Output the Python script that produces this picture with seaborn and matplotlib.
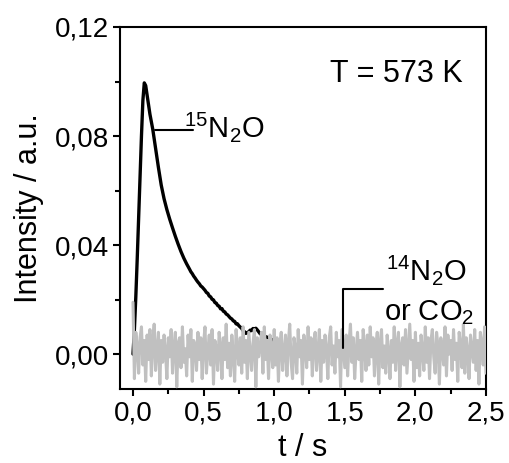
import numpy as np
import pandas as pd
import matplotlib
matplotlib.use("Agg")
import matplotlib.pyplot as plt
import seaborn as sns
from matplotlib.ticker import MultipleLocator, FuncFormatter

# ---------------- data ----------------
# 15N2O transient (intensity in units of 1e-3 a.u.)
t_15 = [0.00, 0.01, 0.02, 0.03, 0.04, 0.05, 0.06, 0.07, 0.08, 0.09,
        0.10, 0.12, 0.14, 0.16, 0.18, 0.20, 0.22, 0.24, 0.26, 0.28,
        0.30, 0.32, 0.34, 0.36, 0.38, 0.40, 0.41, 0.42, 0.43, 0.44,
        0.45, 0.46, 0.47, 0.48, 0.49, 0.50, 0.51, 0.52, 0.53, 0.54,
        0.55, 0.56, 0.57, 0.58, 0.59, 0.60, 0.61, 0.62, 0.63, 0.64,
        0.65, 0.66, 0.67, 0.68, 0.69, 0.70, 0.71, 0.72, 0.73, 0.74,
        0.75, 0.76, 0.77, 0.78, 0.79, 0.80, 0.81, 0.82, 0.83, 0.84,
        0.85, 0.86, 0.87, 0.88, 0.89, 0.90, 0.92, 0.94, 0.96, 0.98,
        1.00, 1.02]
y_15 = [0.0, 9.0, 21.0, 35.0, 50.0, 65.0, 80.0, 93.0, 99.5, 98.5,
        95.0, 88.0, 82.5, 75.5, 68.5, 62.0, 57.0, 53.0, 49.5, 46.3,
        43.2, 40.3, 37.6, 35.2, 33.1, 31.2, 30.2, 29.5, 28.6, 27.9,
        27.1, 26.4, 25.8, 25.0, 24.6, 24.0, 23.4, 22.6, 22.3, 21.3,
        21.0, 20.1, 19.9, 18.9, 18.7, 17.8, 17.6, 16.6, 16.7, 15.7,
        15.5, 14.7, 14.4, 13.8, 13.2, 12.9, 12.2, 12.0, 11.1, 11.1,
        10.4, 9.9, 9.4, 8.6, 8.2, 7.6, 7.9, 8.2, 8.8, 8.6,
        9.4, 9.2, 9.5, 8.9, 8.2, 7.5, 6.8, 6.4, 6.0, 5.4,
        5.0, 4.6]

# 14N2O or CO2 signal (noise around zero, units of 1e-3 a.u.), sampled every 0.01 s
y_14 = [19, -9, 8, 3, -7, 6, 10, -4, 5, -10,
        7, -2, 9, -8, 4, 11, -6, 2, 8, -11,
        5, -3, 7, 1, -9, 6, -1, 9, -7, 3,
        8, -12, 4, 6, -5, 10, -3, 2, -8, 7,
        -1, 9, -10, 5, 3, -6, 8, -2, 6, -9,
        4, 10, -7, 1, 7, -4, 9, -11, 5, 2,
        -6, 8, 3, -9, 6, -2, 11, -5, 4, -8,
        7, 0, -10, 9, 2, -4, 6, -7, 10, -3,
        5, -9, 8, 1, -6, 4, 9, -12, 6, -1,
        3, 8, -7, 10, -2, 5, -9, 7, 2, -5,
        9, -4, 6, -10, 3, 8, -6, 1, 7, -8,
        4, 11, -3, -9, 6, 2, -7, 9, -1, 5,
        -11, 7, 3, -5, 10, -2, 6, -8, 4, 8,
        -6, 1, 9, -10, 5, -3, 7, 2, -9, 6,
        10, -4, 3, -7, 8, -1, 5, -12, 9, 2,
        -5, 7, -8, 4, 11, -3, 6, -9, 1, 8,
        -2, 5, -10, 9, 3, -6, 7, -4, 10, -1,
        6, -8, 2, 8, -11, 4, 9, -5, 3, -7,
        7, 1, -9, 5, -3, 10, -6, 4, 8, -12,
        3, 6, -4, 9, -7, 2, 11, -2, 5, -10,
        8, -5, 4, -8, 7, 1, -6, 10, -3, 6,
        -9, 5, 9, -1, -7, 8, 3, -11, 6, 2,
        -4, 10, -8, 7, 0, 5, -6, 9, -2, 4,
        -10, 8, 3, -5, 11, -7, 6, 1, -9, 7,
        2, -3, 9, -6, 5, -11, 8, 4, -4, 10,
        -7]
t_14 = [round(i * 0.01, 2) for i in range(len(y_14))]

df15 = pd.DataFrame({"t": t_15, "I": np.array(y_15) * 1e-3})
df14 = pd.DataFrame({"t": t_14, "I": np.array(y_14) * 1e-3})

# ---------------- style ----------------
sns.set_theme(style="ticks")
plt.rcParams["font.family"] = ["Liberation Sans", "DejaVu Sans"]
plt.rcParams["mathtext.fontset"] = "custom"
plt.rcParams["mathtext.rm"] = "Liberation Sans"
plt.rcParams["mathtext.it"] = "Liberation Sans:italic"
plt.rcParams["mathtext.bf"] = "Liberation Sans:bold"
plt.rcParams["text.color"] = "black"
plt.rcParams["axes.labelcolor"] = "black"
plt.rcParams["xtick.color"] = "black"
plt.rcParams["ytick.color"] = "black"

fig = plt.figure(figsize=(5.09, 4.63), dpi=100)
ax = fig.add_axes([120 / 509, 74 / 463, 366 / 509, 362 / 463])

sns.lineplot(data=df15, x="t", y="I", ax=ax, color="black", lw=2.4,
             sort=False, estimator=None, zorder=2)
sns.lineplot(data=df14, x="t", y="I", ax=ax, color="#c0c0c0", lw=2.2,
             sort=False, estimator=None, zorder=3)

ax.set_xlim(-0.092, 2.5)
ax.set_ylim(-0.0128, 0.12)
ax.xaxis.set_major_locator(MultipleLocator(0.5))
ax.xaxis.set_minor_locator(MultipleLocator(0.25))
ax.yaxis.set_major_locator(MultipleLocator(0.04))
ax.yaxis.set_minor_locator(MultipleLocator(0.02))
ax.xaxis.set_major_formatter(FuncFormatter(lambda v, p: f"{v:.1f}".replace(".", ",")))
ax.yaxis.set_major_formatter(FuncFormatter(lambda v, p: f"{v:.2f}".replace(".", ",").replace("-0,00", "0,00")))

for s in ax.spines.values():
    s.set_visible(True)
    s.set_linewidth(1.5)
    s.set_color("black")
ax.tick_params(which="major", direction="out", length=5, width=1.5,
               labelsize=20, pad=3, colors="black")
ax.tick_params(which="minor", direction="out", length=3.5, width=1.5,
               colors="black")

ax.set_xlabel("t / s", fontsize=22, labelpad=5)
ax.set_ylabel("Intensity / a.u.", fontsize=22, labelpad=8)

# annotations
ax.text(1.395, 0.0998, "T = 573 K", fontsize=22, ha="left", va="baseline")
ax.plot([0.156, 0.425], [0.0822, 0.0822], color="black", lw=1.5, zorder=4)
ax.text(0.36, 0.0796, r"$^{15}\mathrm{N}_2\mathrm{O}$", fontsize=21,
        ha="left", va="baseline")
ax.plot([1.487, 1.487, 1.77], [0.0022, 0.0239, 0.0239], color="black",
        lw=1.5, zorder=4)
ax.text(1.79, 0.0272, r"$^{14}\mathrm{N}_2\mathrm{O}$", fontsize=21,
        ha="left", va="baseline")
ax.text(1.775, 0.0125, r"or CO$_2$", fontsize=21, ha="left", va="baseline")

fig.savefig("out.png", dpi=100)
